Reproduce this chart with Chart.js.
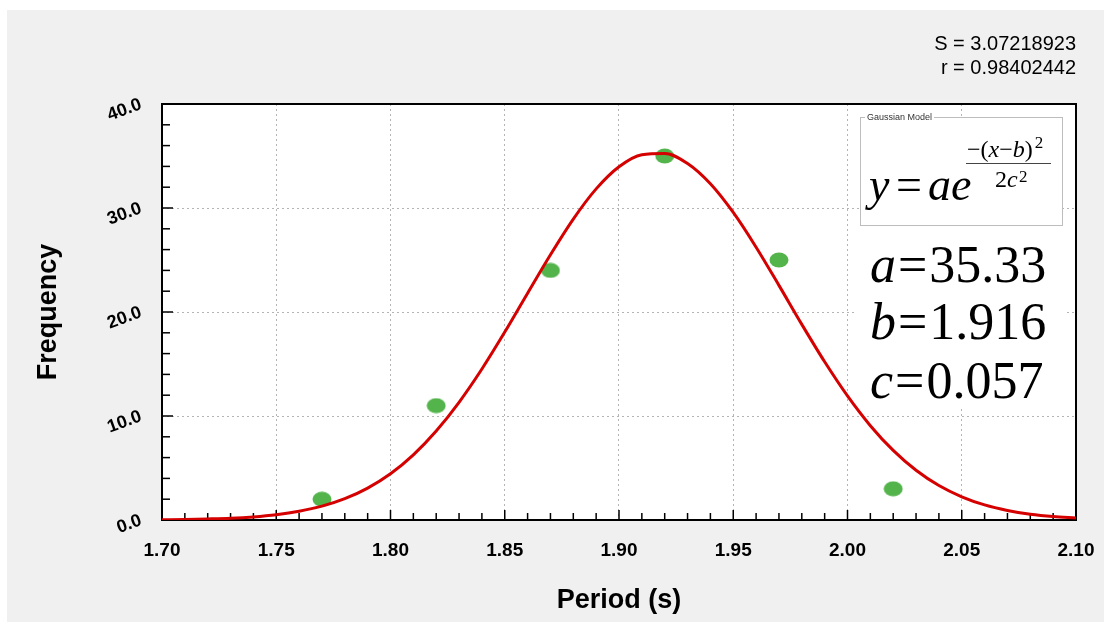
<!DOCTYPE html>
<html>
<head>
<meta charset="utf-8">
<title>Period – Gaussian model</title>
<script src="https://cdn.jsdelivr.net/npm/chart.js@4.4.1/dist/chart.umd.min.js"></script>
<style>
  html, body { margin: 0; padding: 0; background: #fff; }
  #chart { display: block; }
</style>
</head>
<body>
<canvas id="chart" width="1104" height="622"></canvas>
<script>
// measured periods (s) and how many times each came up
const periods = [1.77, 1.82, 1.87, 1.92, 1.97, 2.02];
const counts = [2, 11, 24, 35, 25, 3];

// fitted red curve, every 0.01 s
const curveX = [1.70, 1.71, 1.72, 1.73, 1.74, 1.75, 1.76, 1.77, 1.78, 1.79,
                1.80, 1.81, 1.82, 1.83, 1.84, 1.85, 1.86, 1.87, 1.88, 1.89,
                1.90, 1.91, 1.92, 1.93, 1.94, 1.95, 1.96, 1.97, 1.98, 1.99,
                2.00, 2.01, 2.02, 2.03, 2.04, 2.05, 2.06, 2.07, 2.08, 2.09, 2.10];
const curveY = [0.03, 0.05, 0.10, 0.17, 0.30, 0.51, 0.84, 1.33, 2.05, 3.07,
                4.45, 6.27, 8.56, 11.32, 14.52, 18.07, 21.81, 25.51, 28.94, 31.84,
                33.97, 35.13, 35.24, 34.28, 32.33, 29.57, 26.23, 22.56, 18.81, 15.21,
                11.93, 9.07, 6.69, 4.78, 3.31, 2.23, 1.45, 0.92, 0.56, 0.33, 0.19];

// axis ranges and labels
const xRange = [1.70, 2.10];
const yRange = [0, 40];
const xTitle = 'Period (s)';
const yTitle = 'Frequency';

// fit summary
const stats = ['S = 3.07218923', 'r = 0.98402442'];
const params = [['a', '35.33'], ['b', '1.916'], ['c', '0.057']];

const SANS = '"Liberation Sans", Arial, sans-serif';
const SERIF = '"Liberation Serif", "Times New Roman", serif';

// green dots are slightly wider than tall
function ellipseDot() {
  const c = document.createElement('canvas');
  c.width = 20; c.height = 16;
  const g = c.getContext('2d');
  g.fillStyle = '#54b44c';
  g.beginPath();
  g.ellipse(10, 8, 9.5, 7.5, 0, 0, Math.PI * 2);
  g.fill();
  return c;
}

const frame = {
  id: 'frame',
  beforeDraw(chart) {
    const { ctx, chartArea: a } = chart;
    ctx.save();
    ctx.fillStyle = '#ffffff';
    ctx.fillRect(0, 0, chart.width, chart.height);
    ctx.fillStyle = '#f0f0f0';
    ctx.fillRect(7, 10, chart.width - 7, chart.height - 10);
    ctx.fillStyle = '#ffffff';
    ctx.fillRect(a.left, a.top, a.right - a.left, a.bottom - a.top);
    ctx.restore();
  },
  beforeDatasetsDraw(chart) {
    const { ctx, chartArea: a, scales: { x, y } } = chart;
    ctx.save();

    // "Gaussian Model" group box
    ctx.fillStyle = '#ffffff';
    ctx.fillRect(860, 117, 203, 109);
    ctx.strokeStyle = '#bdbdbd';
    ctx.lineWidth = 1;
    ctx.strokeRect(860.5, 117.5, 202, 108);
    ctx.font = '9px ' + SANS;
    ctx.textBaseline = 'middle';
    const cap = 'Gaussian Model';
    ctx.fillRect(865, 112, ctx.measureText(cap).width + 4, 10);
    ctx.fillStyle = '#333';
    ctx.fillText(cap, 867, 117.5);

    // y = a e^(-(x-b)^2 / 2c^2)
    ctx.fillStyle = '#000';
    ctx.textBaseline = 'alphabetic';
    ctx.font = 'italic 46px ' + SERIF;
    ctx.fillText('y', 869, 200);
    ctx.font = '46px ' + SERIF;
    ctx.fillText('=', 896, 200);
    ctx.font = 'italic 46px ' + SERIF;
    ctx.fillText('a', 928, 200);
    ctx.fillText('e', 951, 200);

    let nx = 967;
    const piece = (t, italic) => {
      ctx.font = (italic ? 'italic ' : '') + '24px ' + SERIF;
      ctx.fillText(t, nx, 157);
      nx += ctx.measureText(t).width;
    };
    piece('\u2212(', false); piece('x', true); piece('\u2212', false); piece('b', true); piece(')', false);
    ctx.font = '17px ' + SERIF;
    ctx.fillText('2', nx + 2, 148);

    ctx.strokeStyle = '#444';
    ctx.lineWidth = 1;
    ctx.beginPath();
    ctx.moveTo(966, 163.5);
    ctx.lineTo(1051, 163.5);
    ctx.stroke();

    ctx.font = '24px ' + SERIF;
    ctx.fillText('2', 995, 187);
    ctx.font = 'italic 24px ' + SERIF;
    ctx.fillText('c', 1007, 187);
    ctx.font = '17px ' + SERIF;
    ctx.fillText('2', 1019, 182);

    // parameter values
    ctx.fillStyle = '#ffffff';
    ctx.fillRect(856, 228, 211, 178);
    ctx.fillStyle = '#000';
    const bases = [282, 339, 398];
    params.forEach(([k, v], i) => {
      let px = 870;
      ctx.font = 'italic 52px ' + SERIF;
      ctx.fillText(k, px, bases[i]);
      px += ctx.measureText(k).width + 2;
      ctx.font = '52px ' + SERIF;
      ctx.fillText('=', px, bases[i]);
      px += ctx.measureText('=').width + 2;
      ctx.fillText(v, px, bases[i]);
    });

    // inward tick marks, major + minor
    ctx.strokeStyle = '#000';
    ctx.lineWidth = 1.5;
    for (let i = 170; i <= 210; i++) {
      const px = x.getPixelForValue(i / 100);
      const len = i % 5 === 0 ? 10 : 7;
      ctx.beginPath();
      ctx.moveTo(px, a.bottom);
      ctx.lineTo(px, a.bottom - len);
      ctx.stroke();
    }
    for (let v = 0; v <= 40; v += 2) {
      const py = y.getPixelForValue(v);
      const len = v % 10 === 0 ? 11 : 8;
      ctx.beginPath();
      ctx.moveTo(a.left, py);
      ctx.lineTo(a.left + len, py);
      ctx.stroke();
    }

    // plot frame
    ctx.lineWidth = 2;
    ctx.strokeRect(a.left, a.top, a.right - a.left, a.bottom - a.top);
    ctx.restore();
  },
  afterDraw(chart) {
    const { ctx } = chart;
    ctx.save();
    ctx.fillStyle = '#000';
    ctx.font = '20px ' + SANS;
    ctx.textAlign = 'right';
    ctx.fillText(stats[0], 1076, 50);
    ctx.fillText(stats[1], 1076, 74);
    ctx.restore();
  }
};

new Chart(document.getElementById('chart'), {
  type: 'scatter',
  data: {
    datasets: [
      {
        label: 'Gaussian fit',
        type: 'line',
        data: curveX.map((v, i) => ({ x: v, y: curveY[i] })),
        borderColor: '#d50000',
        borderWidth: 3,
        pointRadius: 0,
        fill: false,
        cubicInterpolationMode: 'monotone'
      },
      {
        label: 'Frequency',
        data: periods.map((v, i) => ({ x: v, y: counts[i] })),
        pointStyle: ellipseDot(),
        showLine: false
      }
    ]
  },
  options: {
    responsive: false,
    animation: false,
    layout: { padding: { top: 104, right: 28, bottom: 0, left: 0 } },
    plugins: { legend: { display: false }, tooltip: { enabled: false } },
    scales: {
      x: {
        type: 'linear',
        min: xRange[0],
        max: xRange[1],
        afterFit(s) { s.height = 102; s.paddingLeft = 0; s.paddingRight = 0; },
        ticks: {
          stepSize: 0.05,
          color: '#000',
          padding: 19,
          maxRotation: 0,
          font: { family: SANS, size: 19, weight: 'bold' },
          callback: v => Number(v).toFixed(2)
        },
        grid: { color: '#b4b4b4', lineWidth: 1, drawTicks: false },
        border: { display: false, dash: [2, 3] },
        title: {
          display: true,
          text: xTitle,
          color: '#000',
          padding: { top: 0, bottom: 5 },
          font: { family: SANS, size: 27, weight: 'bold' }
        }
      },
      y: {
        min: yRange[0],
        max: yRange[1],
        afterFit(s) { s.width = 162; s.paddingTop = 0; s.paddingBottom = 0; },
        ticks: {
          stepSize: 10,
          color: '#000',
          padding: 21,
          minRotation: 20,
          maxRotation: 20,
          font: { family: SANS, size: 18, weight: 'bold' },
          callback: v => Number(v).toFixed(1)
        },
        grid: { color: '#b4b4b4', lineWidth: 1, drawTicks: false },
        border: { display: false, dash: [2, 3] },
        title: {
          display: true,
          text: yTitle,
          color: '#000',
          padding: { top: 32, bottom: 0 },
          font: { family: SANS, size: 27, weight: 'bold' }
        }
      }
    }
  },
  plugins: [frame]
});
</script>
</body>
</html>
